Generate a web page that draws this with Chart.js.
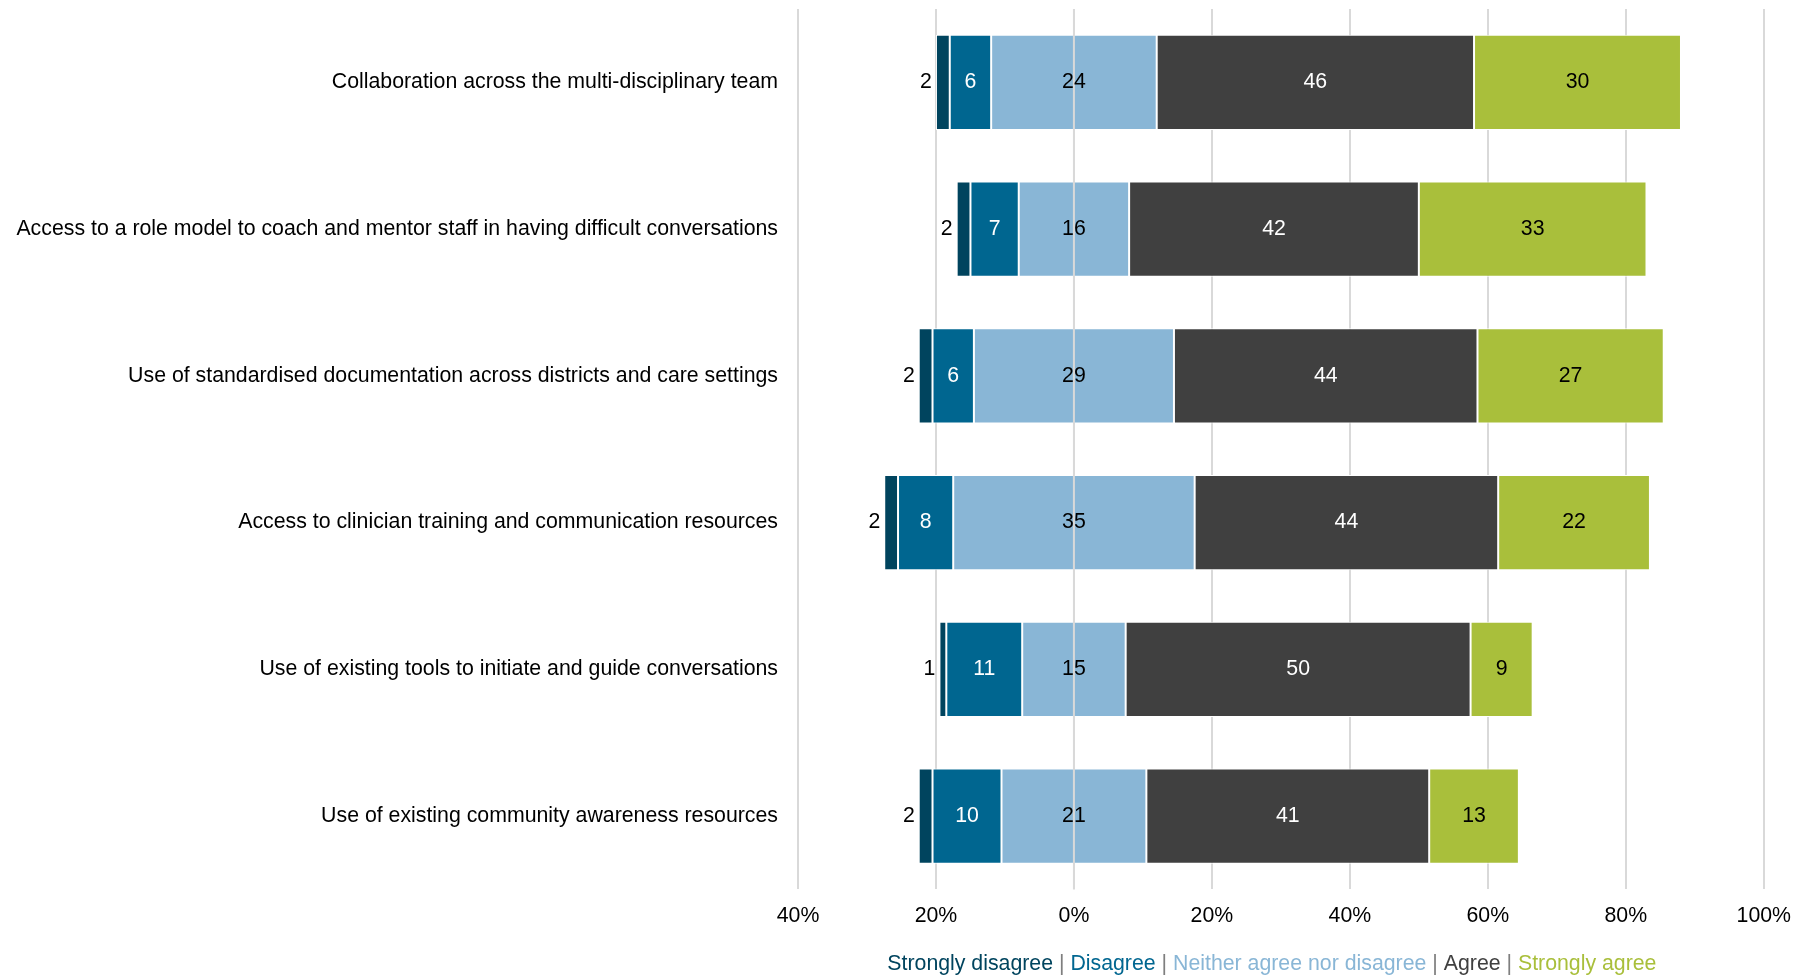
<!DOCTYPE html>
<html>
<head>
<meta charset="utf-8">
<script src="https://cdn.jsdelivr.net/npm/chart.js@4"></script>
<style>
  html, body { margin: 0; background: #fff; }
  #wrap { width: 1805px; height: 978px; position: relative; }
</style>
</head>
<body>
<div id="wrap"><canvas id="likertChart"></canvas></div>
<script>
// Survey statements, top to bottom
const statements = [
  'Collaboration across the multi-disciplinary team',
  'Access to a role model to coach and mentor staff in having difficult conversations',
  'Use of standardised documentation across districts and care settings',
  'Access to clinician training and communication resources',
  'Use of existing tools to initiate and guide conversations',
  'Use of existing community awareness resources'
];

// Percent of responses per answer
const stronglyDisagree = [2, 2, 2, 2, 1, 2];
const disagree = [6, 7, 6, 8, 11, 10];
const neutral = [24, 16, 29, 35, 15, 21];
const agree = [46, 42, 44, 44, 50, 41];
const stronglyAgree = [30, 33, 27, 22, 9, 13];

const responseNames = ['Strongly disagree', 'Disagree', 'Neither agree nor disagree', 'Agree', 'Strongly agree'];
const responseColors = ['#00445e', '#006690', '#89b6d6', '#404040', '#a9bf3b'];
const labelColors = ['#000000', '#ffffff', '#000000', '#ffffff', '#000000'];
const axisTicks = [-40, -20, 0, 20, 40, 60, 80, 100];

const FONT = '"Liberation Sans", Arial, sans-serif';
const FONT_SIZE = 21.3;

// Neutral answers straddle zero; the rest stack outward from it
const ranges = [[], [], [], [], []];
statements.forEach((s, i) => {
  const half = neutral[i] / 2;
  const dStart = -half - disagree[i];
  ranges[0].push([dStart - stronglyDisagree[i], dStart]);
  ranges[1].push([dStart, -half]);
  ranges[2].push([-half, half]);
  ranges[3].push([half, half + agree[i]]);
  ranges[4].push([half + agree[i], half + agree[i] + stronglyAgree[i]]);
});
const rawValues = [stronglyDisagree, disagree, neutral, agree, stronglyAgree];

const datasets = responseNames.map((name, k) => ({
  label: name,
  data: ranges[k],
  backgroundColor: responseColors[k],
  borderColor: '#ffffff',
  borderWidth: 1,
  borderSkipped: false,
  grouped: false,
  barPercentage: 0.65,
  categoryPercentage: 1
}));

// Zero line on top of the bars, then the value labels
const barLabels = {
  id: 'barLabels',
  afterDatasetsDraw(chart) {
    const ctx = chart.ctx;
    const area = chart.chartArea;
    const x0 = chart.scales.x.getPixelForValue(0);
    ctx.save();
    ctx.strokeStyle = '#d9d9d9';
    ctx.lineWidth = 2;
    ctx.beginPath();
    ctx.moveTo(x0, area.top);
    ctx.lineTo(x0, area.bottom);
    ctx.stroke();

    ctx.font = FONT_SIZE + 'px ' + FONT;
    ctx.textBaseline = 'middle';
    chart.data.datasets.forEach((ds, k) => {
      const meta = chart.getDatasetMeta(k);
      meta.data.forEach((bar, i) => {
        const text = String(rawValues[k][i]);
        ctx.fillStyle = labelColors[k];
        if (k === 0) {
          ctx.textAlign = 'right';
          ctx.fillText(text, Math.min(bar.x, bar.base) - 4, bar.y);
        } else {
          ctx.textAlign = 'center';
          ctx.fillText(text, (bar.x + bar.base) / 2, bar.y);
        }
      });
    });
    ctx.restore();
  }
};

// Coloured text legend under the axis
const textLegend = {
  id: 'textLegend',
  afterDraw(chart) {
    const ctx = chart.ctx;
    const area = chart.chartArea;
    const parts = [];
    responseNames.forEach((name, k) => {
      if (k > 0) parts.push({ text: ' | ', color: '#7f7f7f' });
      parts.push({ text: name, color: responseColors[k] });
    });
    ctx.save();
    ctx.font = FONT_SIZE + 'px ' + FONT;
    ctx.textBaseline = 'middle';
    ctx.textAlign = 'left';
    const total = parts.reduce((w, p) => w + ctx.measureText(p.text).width, 0);
    let x = (area.left + area.right) / 2 - 9 - total / 2;
    parts.forEach(p => {
      ctx.fillStyle = p.color;
      ctx.fillText(p.text, x, 964);
      x += ctx.measureText(p.text).width;
    });
    ctx.restore();
  }
};

const ctx = document.getElementById('likertChart').getContext('2d');
const chart = new Chart(ctx, {
  type: 'bar',
  data: { labels: statements, datasets: datasets },
  options: {
    indexAxis: 'y',
    responsive: true,
    maintainAspectRatio: false,
    animation: false,
    layout: { padding: { top: 9, right: 40, bottom: 35, left: 0 } },
    plugins: {
      legend: { display: false },
      tooltip: { enabled: false }
    },
    scales: {
      x: {
        min: -40,
        max: 100,
        afterBuildTicks(scale) {
          scale.ticks = axisTicks.map(v => ({ value: v }));
        },
        grid: { color: '#d9d9d9', lineWidth: 2, drawTicks: false },
        border: { display: false },
        ticks: {
          padding: 14,
          color: '#000000',
          font: { family: FONT, size: FONT_SIZE },
          callback: v => Math.abs(v) + '%'
        }
      },
      y: {
        grid: { display: false, drawTicks: false },
        border: { display: false },
        afterFit(scale) {
          scale.width = 798;
          scale.paddingTop = 0;
          scale.paddingBottom = 0;
        },
        ticks: {
          padding: 20,
          color: '#000000',
          font: { family: FONT, size: FONT_SIZE }
        }
      }
    }
  },
  plugins: [barLabels, textLegend]
});
</script>
</body>
</html>
